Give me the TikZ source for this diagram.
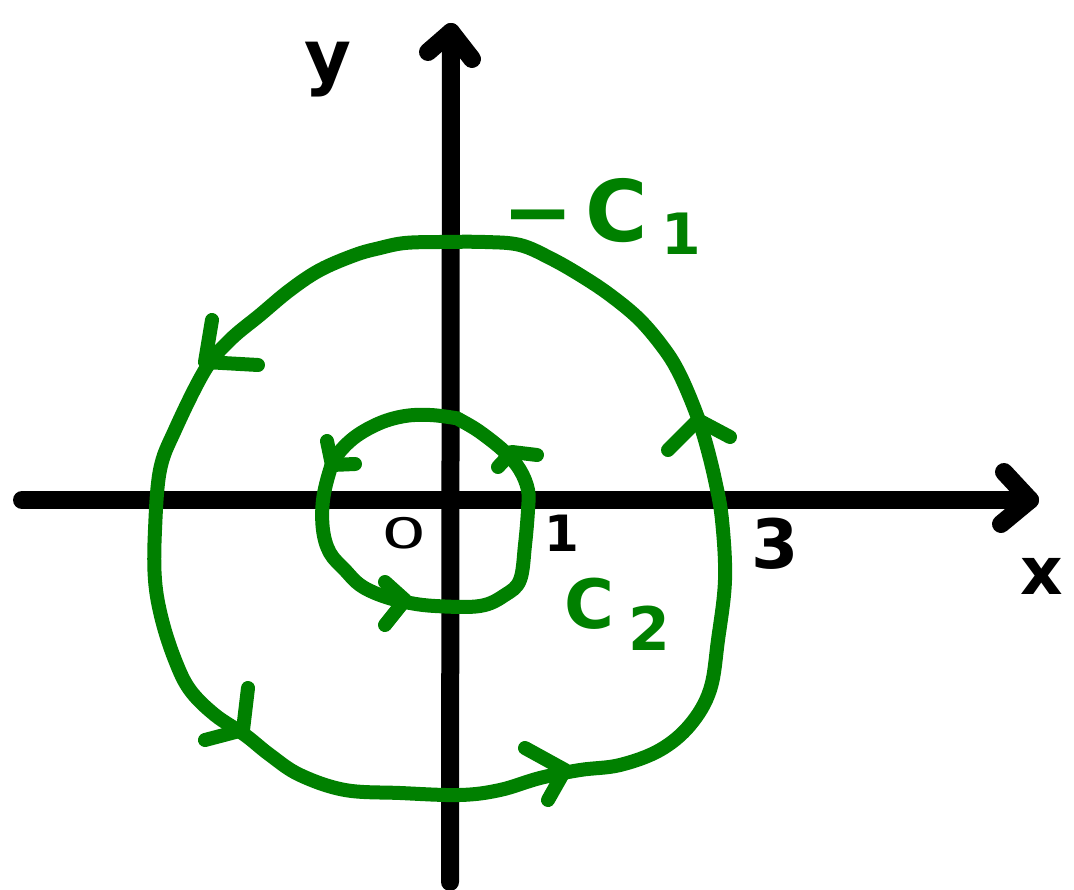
\documentclass[tikz,border=0pt]{standalone}
\usepackage{fontspec}
\setmainfont{DejaVu Sans}
\definecolor{pen}{RGB}{0,128,0}
\tikzset{
  axisline/.style={line width=18pt, black, line cap=round, line join=round},
  curve/.style={line width=14pt, pen, line cap=round, line join=round},
  chev/.style={line width=14pt, pen, line cap=round, line join=round},
  axischev/.style={line width=18pt, black, line cap=round, line join=round},
  lab/.style={inner sep=0pt, anchor=base, font=\bfseries},
  glab/.style={lab, text=pen}
}
\begin{document}
\begin{tikzpicture}[x=1pt,y=-1pt]
\useasboundingbox (0,0) rectangle (1074,890);
% axes
\coordinate (xs) at (22,500);
\coordinate (xe) at (1030,500);
\coordinate (ys) at (450,882);
\coordinate (ye) at (451,32);
\coordinate (xa1) at (1004,472);
\coordinate (xa2) at (1001,524);
\coordinate (ya1) at (428,52);
\coordinate (ya2) at (472,59);
\draw[axisline] (xs) -- (xe);
\draw[axisline] (ys) -- (ye);
\draw[axischev] (xa1) -- (xe) -- (xa2);
\draw[axischev] (ya1) -- (ye) -- (ya2);
% big circle -C1
\draw[curve] plot[smooth cycle, tension=0.6] coordinates {
 (485,242) (440,242) (405,243) (380,248) (355,255) (320,270) (290,290) (260,315)
 (230,340) (205,370) (175,430) (160,470) (155,530) (155,580) (162,620) (175,660)
 (190,690) (215,715) (245,735) (270,755) (300,775) (345,790) (400,793) (460,795)
 (500,790) (540,778) (580,770) (620,765) (660,750) (690,725) (710,690) (718,640)
 (725,580) (722,520) (715,480) (705,440) (695,410) (680,375) (665,350) (640,320)
 (610,295) (580,275) (550,258) (520,245)};
\coordinate (b1t) at (205,362); \coordinate (b1a) at (212,320); \coordinate (b1b) at (258,365);
\coordinate (b2t) at (698,420); \coordinate (b2a) at (668,450); \coordinate (b2b) at (730,437);
\coordinate (b3t) at (243,730); \coordinate (b3a) at (248,688); \coordinate (b3b) at (205,740);
\coordinate (b4t) at (565,770); \coordinate (b4a) at (525,748); \coordinate (b4b) at (548,800);
\draw[chev] (b1a) -- (b1t) -- (b1b);
\draw[chev] (b2a) -- (b2t) -- (b2b);
\draw[chev] (b3a) -- (b3t) -- (b3b);
\draw[chev] (b4a) -- (b4t) -- (b4b);
% small circle C2
\draw[curve] plot[smooth cycle, tension=0.6] coordinates {
 (455,418) (430,415) (405,416) (380,423) (355,437) (337,455) (330,470) (323,500)
 (323,530) (330,553) (345,570) (360,585) (380,595) (405,602) (435,606) (480,606)
 (505,595) (520,580) (525,545) (528,510) (528,490) (520,470) (505,452) (480,432)
 (460,420)};
\coordinate (s1t) at (332,465); \coordinate (s1a) at (327,441); \coordinate (s1b) at (355,464);
\coordinate (s2t) at (512,452); \coordinate (s2a) at (498,467); \coordinate (s2b) at (537,455);
\coordinate (s3t) at (405,600); \coordinate (s3a) at (385,582); \coordinate (s3b) at (385,625);
\draw[chev] (s1a) -- (s1t) -- (s1b);
\draw[chev] (s2a) -- (s2t) -- (s2b);
\draw[chev] (s3a) -- (s3t) -- (s3b);
% labels
\node[lab, font=\bfseries\fontsize{72}{72}\selectfont] (ylab) at (328,82) {y};
\node[lab, font=\bfseries\fontsize{66}{66}\selectfont] (xlab) at (1042,594) {x};
\node[lab, font=\fontsize{42}{42}\selectfont] (o) at (404,548) {\scalebox{1.7}[1]{0}};
\node[lab, font=\bfseries\fontsize{50}{50}\selectfont] (one) at (562,551) {1};
\node[lab, font=\bfseries\fontsize{68}{68}\selectfont] (three) at (775,568) {3};
\node[glab, font=\bfseries\fontsize{85}{85}\selectfont] (c1) at (602,242) {−\hspace{12pt}C\hspace{14pt}\raisebox{-13pt}{\fontsize{57}{57}\selectfont 1}};
\node[glab, font=\bfseries\fontsize{68}{68}\selectfont] (c2) at (617,628) {C\hspace{14pt}\raisebox{-22pt}{\fontsize{60}{60}\selectfont 2}};
\end{tikzpicture}
\end{document}
